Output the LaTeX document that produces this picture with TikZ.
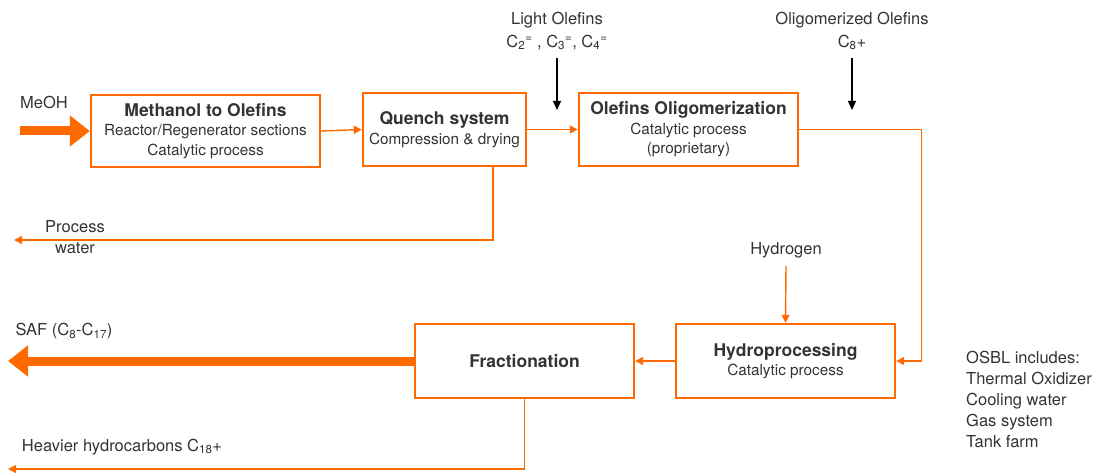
\documentclass[tikz,border=0pt]{standalone}
\usepackage{fontspec}
\setmainfont{TeX Gyre Heros}
\usetikzlibrary{arrows.meta}
\definecolor{flow}{HTML}{FF6A00}
\definecolor{ink}{HTML}{333333}
\tikzset{
  unit/.style={draw=flow, line width=2.4pt, text=ink, align=center, inner sep=0pt,
    font=\fontsize{15.3}{19.5}\selectfont},
  label/.style={text=ink, align=center, inner sep=0pt},
  stream/.style={draw=flow, line width=1.4pt, -{Triangle[length=8pt,width=8pt]}},
  feed/.style={draw=black, line width=1.2pt, -{Triangle[length=9pt,width=8pt]}},
  bulk/.style={draw=flow, line width=9pt, -{Triangle[length=20pt,width=30pt]}}
}
\newcommand{\hd}[1]{{\fontsize{17.5}{20}\selectfont\bfseries #1}}
\begin{document}
\begin{tikzpicture}[x=1pt,y=-1pt, font=\fontsize{16.5}{21}\selectfont]
        \useasboundingbox (0,0) rectangle (1100,473);
        % process units
        \node[unit, minimum width=229, minimum height=72] (mto) at (205.5,131)
          {\hd{Methanol to Olefins}\\Reactor/Regenerator sections\\Catalytic process};
        \node[unit, minimum width=163, minimum height=73] (quench) at (444.5,129.5)
          {\hd{Quench system}\\Compression \& drying};
        \node[unit, minimum width=219, minimum height=73] (oligo) at (688.5,129.5)
          {\hd{Olefins Oligomerization}\\Catalytic process\\(proprietary)};
        \node[unit, minimum width=219, minimum height=74] (hydro) at (785.5,361)
          {\hd{Hydroprocessing}\\Catalytic process};
        \node[unit, minimum width=219, minimum height=74] (frac) at (524.5,361)
          {\hd{Fractionation}};
        
        % stream labels
        \node[label] (meoh) at (44,102) {MeOH};
        \node[label, font=\fontsize{16.5}{23}\selectfont] (light) at (557,31) {Light Olefins\\C\textsubscript{2}\textsuperscript{=} , C\textsubscript{3}\textsuperscript{=}, C\textsubscript{4}\textsuperscript{=}};
        \node[label, font=\fontsize{16.5}{23}\selectfont] (olig) at (852,31) {Oligomerized Olefins\\C\textsubscript{8}+};
        \node[label] (water) at (75,237.5) {Process\\water};
        \node[label] (h2) at (786,250) {Hydrogen};
        \node[label] (saf) at (64,331) {SAF (C\textsubscript{8}-C\textsubscript{17})};
        \node[label] (heavy) at (122,447) {Heavier hydrocarbons C\textsubscript{18}+};
        \node[label, align=left, anchor=north west] (osbl) at (966,351)
          {OSBL includes:\\Thermal Oxidizer\\Cooling water\\Gas system\\Tank farm};
        
        % free ends
        \coordinate (meohin) at (20,131);
        \coordinate (lightin) at (557,110);
        \coordinate (oligin) at (852,110);
        \coordinate (waterout) at (14,240);
        \coordinate (safout) at (8,361);
        \coordinate (heavyout) at (8,469);
        
        % flows
        \draw[bulk] (meohin) -- (mto.west);
        \draw[stream] (mto.east) -- (quench.west);
        \draw[stream] (quench.east) -- (oligo.west);
        \draw[feed] (light.south)+(0,8) -- (lightin);
        \draw[feed] (olig.south)+(0,8) -- (oligin);
        \draw[stream] (oligo.east) -- ++(122,0) |- (hydro.east);
        \draw[stream] (quench.south -| 493,0) |- (waterout);
        \draw[stream] (h2.south)+(0,8) -- (hydro.north);
        \draw[stream] (hydro.west) -- (frac.west -| frac.east);
        \draw[bulk] (frac.west) -- (safout);
        \draw[stream] (frac.south) |- (heavyout);
\end{tikzpicture}
\end{document}
